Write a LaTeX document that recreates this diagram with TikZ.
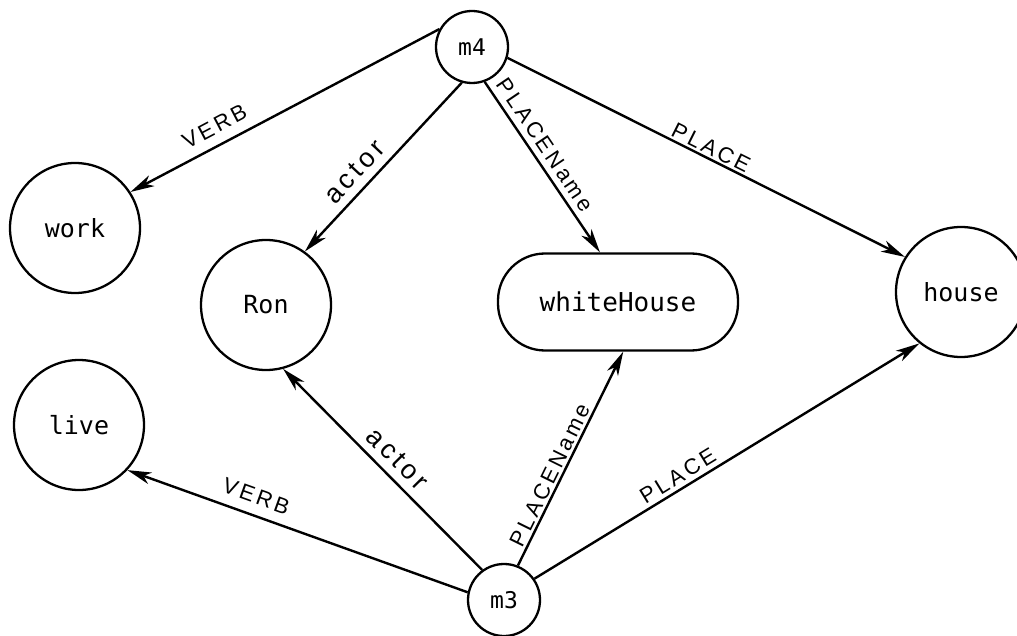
\documentclass[tikz,border=0pt]{standalone}
\usepackage{fontspec}
\setmainfont{Liberation Sans}[LetterSpace=14]
\newfontfamily\nodefont{DejaVu Sans Mono}
\usetikzlibrary{arrows.meta}
\begin{document}
\begin{tikzpicture}[x=1pt,y=-1pt,
  concept/.style={circle, draw, line width=2.3pt, minimum size=130pt, inner sep=0pt,
                  font=\nodefont\fontsize{25}{29}\selectfont},
  prop/.style={circle, draw, line width=2.3pt, minimum size=72pt, inner sep=0pt,
               font=\nodefont\fontsize{23}{27}\selectfont},
  pill/.style={rectangle, rounded corners=47pt, draw, line width=2.3pt,
               minimum width=240pt, minimum height=97pt,
               font=\nodefont\fontsize{26}{30}\selectfont},
  rel/.style={line width=2.4pt, -{Stealth[length=24pt,width=12pt,inset=7pt]}},
  lbl/.style={sloped, font=\fontsize{22}{26}\selectfont, inner sep=2pt},
  biglbl/.style={lbl, font=\fontsize{27}{30}\selectfont}
]
\useasboundingbox[fill=white] (0,0) rectangle (1017,636);

% proposition nodes
\node[prop] (m4) at (472,47) {m4};
\node[prop] (m3) at (504,600) {m3};

% base nodes
\node[concept] (work)  at (75,228)  {work};
\node[concept] (ron)   at (266,305) {Ron};
\node[pill]    (wh)    at (618,302) {whiteHouse};
\node[concept] (house) at (961,292) {house};
\node[concept] (live)  at (79,425)  {live};

% arcs of m4
\draw[rel] (m4.151) -- node[lbl, pos=0.7,  above=8pt] {VERB} (work.33);
\draw[rel] (m4.254) -- node[biglbl, pos=0.6, above=6pt] {actor} (ron.54);
\draw[rel] (m4.290) -- node[lbl, pos=0.42, above=4pt] {PLACEName} (wh.110);
\draw[rel] (m4.343) -- node[lbl, pos=0.5,  above=0pt] {PLACE} (house.148);

% arcs of m3
\draw[rel] (m3.168) -- node[lbl, pos=0.64, above=8pt] {VERB} (live.317);
\draw[rel] (m3.126) -- node[biglbl, pos=0.49, above=6pt] {actor} (ron.285);
\draw[rel] (m3.68)  -- node[lbl, pos=0.4, above=0pt] {PLACEName} (wh.276);
\draw[rel] (m3.35)  -- node[lbl, pos=0.39, above=2pt] {PLACE} (house.231);
\end{tikzpicture}
\end{document}
